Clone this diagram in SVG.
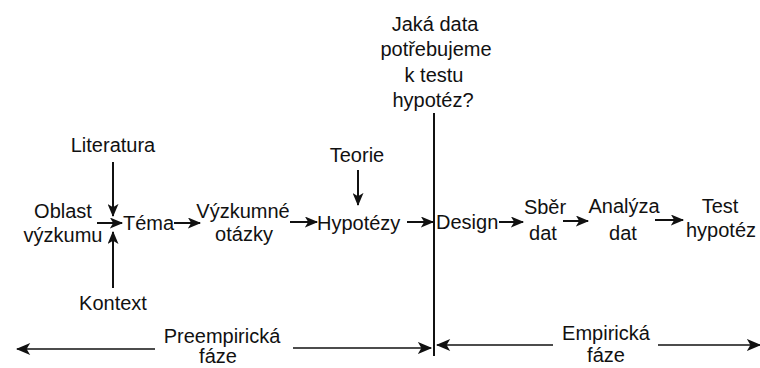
<svg xmlns="http://www.w3.org/2000/svg" width="760" height="368" viewBox="0 0 760 368">
<style>
text{font-family:"Liberation Sans",Arial,Helvetica,sans-serif;font-size:20px;fill:#111;text-anchor:middle}
.s{text-anchor:start}
.ln{stroke:#111;stroke-width:2;fill:none}
.ph{stroke:#111;stroke-width:1.6;fill:none}
</style>
<defs>
<marker id="ah" viewBox="0 0 12 10" refX="11" refY="5" markerWidth="14" markerHeight="11" markerUnits="userSpaceOnUse" orient="auto">
<path d="M0,0 L12,5 L0,10 L3,5 z" fill="#111"/>
</marker>
<marker id="ap" viewBox="0 0 12 10" refX="11" refY="5" markerWidth="15" markerHeight="12" markerUnits="userSpaceOnUse" orient="auto">
<path d="M0,0 L12,5 L0,10 L3,5 z" fill="#111"/>
</marker>
</defs>
<g id="question">
<text x="435" y="31">Jaká data</text>
<text x="436" y="56">potřebujeme</text>
<text x="434" y="82">k testu</text>
<text x="433" y="107">hypotéz?</text>
</g>
<g id="divider"><line class="ln" x1="434" y1="113" x2="434" y2="356"/></g>
<g id="oblast"><text x="63" y="218">Oblast</text><text x="63" y="242">výzkumu</text></g>
<g id="literatura"><text x="113" y="152">Literatura</text></g>
<g id="kontext"><text x="113" y="310">Kontext</text></g>
<g id="tema"><text class="s" x="123" y="230">Téma</text></g>
<g id="vyzkumne"><text x="243" y="218">Výzkumné</text><text x="244" y="241">otázky</text></g>
<g id="teorie"><text x="357" y="162">Teorie</text></g>
<g id="hypotezy"><text class="s" x="317" y="230">Hypotézy</text></g>
<g id="design"><text class="s" x="436" y="229">Design</text></g>
<g id="sber"><text x="545" y="214">Sběr</text><text x="543" y="240">dat</text></g>
<g id="analyza"><text x="624" y="213">Analýza</text><text x="623" y="240">dat</text></g>
<g id="test"><text x="720" y="213">Test</text><text x="721" y="237">hypotéz</text></g>
<g id="preempiricka"><text x="222" y="343">Preempirická</text><text x="218" y="363">fáze</text></g>
<g id="empiricka"><text x="606" y="340">Empirická</text><text x="606" y="362">fáze</text></g>
<g id="connectors">
<line class="ln" x1="97" y1="223" x2="122" y2="223" marker-end="url(#ah)"/>
<line class="ln" x1="113" y1="162" x2="113" y2="216" marker-end="url(#ah)"/>
<line class="ln" x1="113" y1="288" x2="113" y2="232" marker-end="url(#ah)"/>
<line class="ln" x1="174" y1="223" x2="200" y2="223" marker-end="url(#ah)"/>
<line class="ln" x1="290" y1="222" x2="317" y2="222" marker-end="url(#ah)"/>
<line class="ln" x1="358" y1="170" x2="358" y2="205" marker-end="url(#ah)"/>
<line class="ln" x1="407" y1="222" x2="433" y2="222" marker-end="url(#ah)"/>
<line class="ln" x1="499" y1="222" x2="523" y2="222" marker-end="url(#ah)"/>
<line class="ln" x1="563" y1="221" x2="588" y2="221" marker-end="url(#ah)"/>
<line class="ln" x1="655" y1="220" x2="683" y2="220" marker-end="url(#ah)"/>
<line class="ph" x1="155" y1="349" x2="17" y2="349" marker-end="url(#ap)"/>
<line class="ph" x1="293" y1="348" x2="431" y2="348" marker-end="url(#ap)"/>
<line class="ph" x1="553" y1="345" x2="437" y2="345" marker-end="url(#ap)"/>
<line class="ph" x1="658" y1="345" x2="760" y2="345" marker-end="url(#ap)"/>
</g>
</svg>
